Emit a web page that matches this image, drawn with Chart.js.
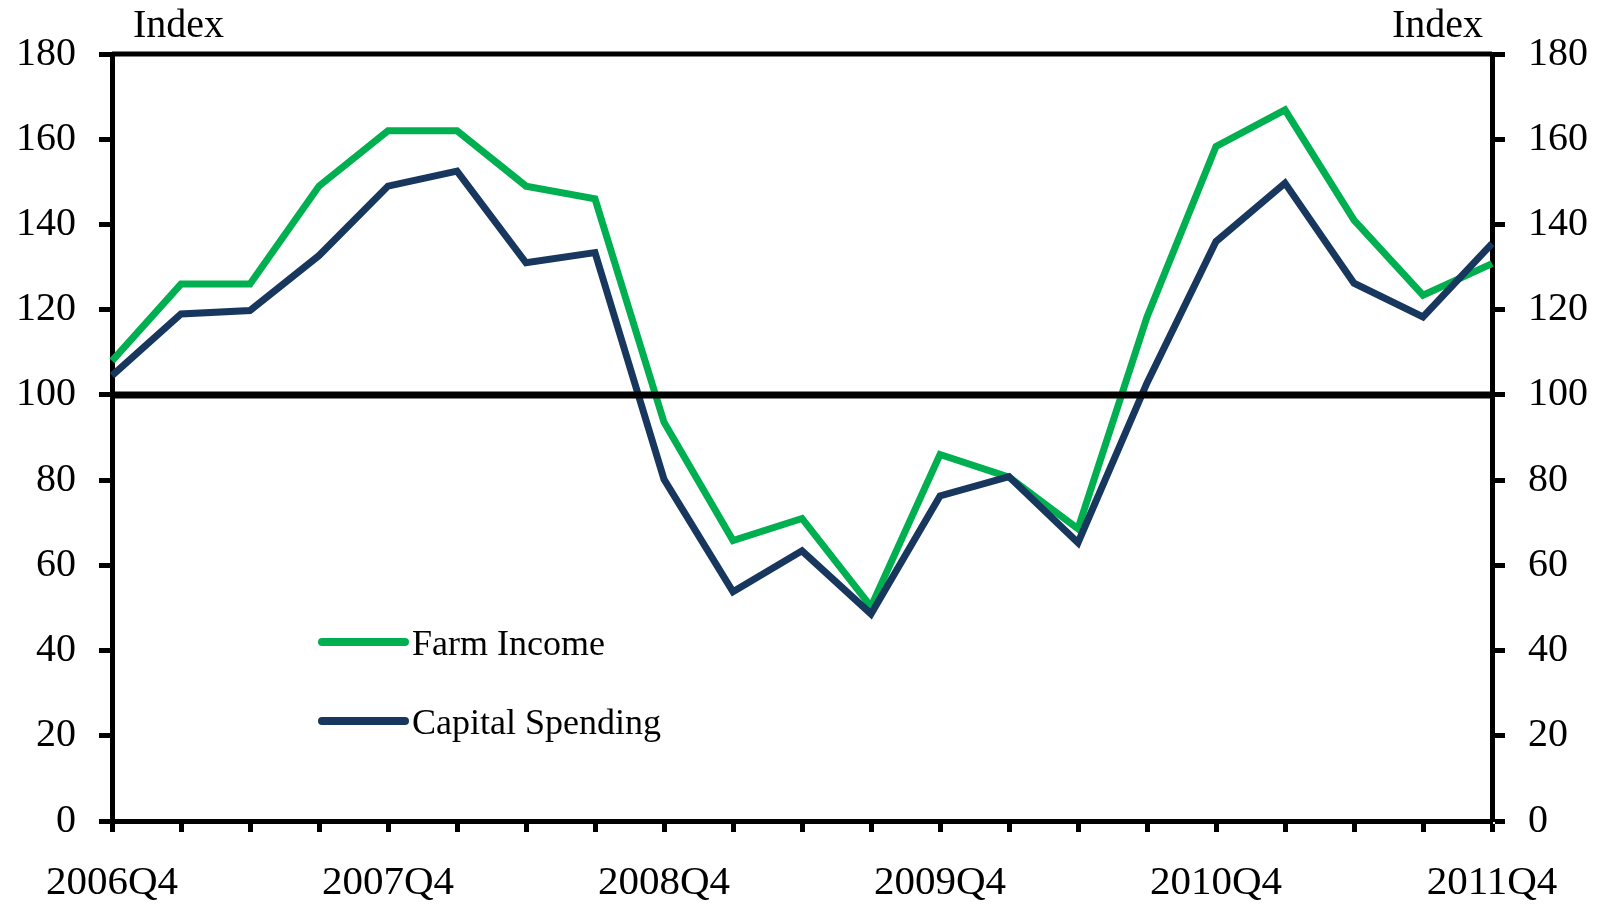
<!DOCTYPE html>
<html>
<head>
<meta charset="utf-8">
<title>Farm Income and Capital Spending</title>
<script src="https://cdn.jsdelivr.net/npm/chart.js@4.4.1/dist/chart.umd.min.js"></script>
<style>
  html, body { margin: 0; padding: 0; background: #fff; }
  #wrap { width: 1600px; height: 904px; position: relative; }
</style>
</head>
<body>
<div id="wrap"><canvas id="chartCanvas"></canvas></div>
<script>
// Quarterly index values, 2006Q4 .. 2011Q4
const quarters = [
  "2006Q4", "2007Q1", "2007Q2", "2007Q3",
  "2007Q4", "2008Q1", "2008Q2", "2008Q3",
  "2008Q4", "2009Q1", "2009Q2", "2009Q3",
  "2009Q4", "2010Q1", "2010Q2", "2010Q3",
  "2010Q4", "2011Q1", "2011Q2", "2011Q3",
  "2011Q4",
];
const farmIncome = [
  108, 126, 126, 149, 162, 162, 149, 146, 93.6, 65.8, 71,
  50.3, 86, 80.7, 68.6, 118.3, 158.3, 166.9, 141, 123.4, 130.8,
];
const capitalSpending = [
  104.5, 119, 119.8, 132.7, 149, 152.5, 131, 133.4, 80.2, 53.8, 63.4,
  48.6, 76.3, 80.8, 65.3, 102.8, 136, 149.7, 126.2, 118.3, 135.5,
];
const seriesNames = ["Farm Income", "Capital Spending"];
const yTicks = [0, 20, 40, 60, 80, 100, 120, 140, 160, 180];
const baseline = 100;
const axisTitle = "Index";

const GREEN = "rgb(0,176,80)";
const NAVY = "rgb(23,55,94)";
const SERIF = "'Liberation Serif', 'Times New Roman', serif";

// box top edge, 100 line, "Index" titles and the in-plot legend
const decorations = {
    id: "decorations",
    afterDatasetsDraw(chart) {
        const { ctx, chartArea } = chart;
        const y = chart.scales.y;
        ctx.save();
        ctx.strokeStyle = "#000";

        // baseline at 100
        ctx.lineWidth = 7;
        ctx.beginPath();
        const yb = y.getPixelForValue(baseline);
        ctx.moveTo(chartArea.left, yb);
        ctx.lineTo(chartArea.right, yb);
        ctx.stroke();

        // top edge of the frame
        ctx.lineWidth = 5;
        ctx.beginPath();
        ctx.moveTo(chartArea.left, chartArea.top);
        ctx.lineTo(chartArea.right, chartArea.top);
        ctx.stroke();

        // axis titles
        ctx.fillStyle = "#000";
        ctx.font = "40px " + SERIF;
        ctx.textBaseline = "alphabetic";
        ctx.textAlign = "left";
        ctx.fillText(axisTitle, 133, 37);
        ctx.textAlign = "right";
        ctx.fillText(axisTitle, 1483, 37);

        // legend
        const colors = [GREEN, NAVY];
        const rows = [642, 721];
        ctx.lineCap = "round";
        ctx.lineWidth = 8;
        ctx.font = "36px " + SERIF;
        ctx.textAlign = "left";
        ctx.textBaseline = "middle";
        seriesNames.forEach((name, i) => {
            ctx.strokeStyle = colors[i];
            ctx.beginPath();
            ctx.moveTo(322, rows[i]);
            ctx.lineTo(405, rows[i]);
            ctx.stroke();
            ctx.fillText(name, 412, rows[i] + 4);
        });
        ctx.restore();
    },
};

const tickFont = { family: SERIF, size: 40 };
const axisGrid = {
    drawOnChartArea: false,
    drawTicks: true,
    tickLength: 13,
    tickWidth: 5,
    tickColor: "#000",
    offset: false,
};
const axisBorder = { display: true, color: "#000", width: 5 };

function yAxis(position, width) {
    return {
        type: "linear",
        position: position,
        min: yTicks[0],
        max: yTicks[yTicks.length - 1],
        grid: axisGrid,
        border: axisBorder,
        afterBuildTicks: (scale) => {
            scale.ticks = yTicks.map((v) => ({ value: v }));
        },
        ticks: {
            font: tickFont,
            color: "#000",
            padding: 23,
        },
        afterFit: (scale) => {
            scale.width = width;
        },
    };
}

const ctx = document.getElementById("chartCanvas").getContext("2d");
new Chart(ctx, {
    type: "line",
    data: {
        labels: quarters,
        datasets: [
            {
                label: seriesNames[0],
                data: farmIncome,
                borderColor: GREEN,
                borderWidth: 7,
                pointRadius: 0,
                tension: 0,
                order: 1,
                yAxisID: "y",
            },
            {
                label: seriesNames[1],
                data: capitalSpending,
                borderColor: NAVY,
                borderWidth: 7,
                pointRadius: 0,
                tension: 0,
                order: 0,
                yAxisID: "y",
            },
        ],
    },
    options: {
        responsive: true,
        maintainAspectRatio: false,
        animation: false,
        layout: { padding: { top: 54, left: 0, right: 0, bottom: 0 } },
        plugins: {
            legend: { display: false },
            tooltip: { enabled: false },
        },
        scales: {
            x: {
                type: "category",
                offset: false,
                grid: { ...axisGrid, tickLength: 11 },
                border: axisBorder,
                ticks: {
                    autoSkip: false,
                    maxRotation: 0,
                    font: { family: SERIF, size: 41 },
                    color: "#000",
                    padding: 27,
                    callback: function (value, index) {
                        return index % 4 === 0 ? quarters[index] : "";
                    },
                },
                afterFit: (scale) => {
                    scale.height = 83;
                },
            },
            y: yAxis("left", 112),
            y2: yAxis("right", 108),
        },
    },
    plugins: [decorations],
});
</script>
</body>
</html>
